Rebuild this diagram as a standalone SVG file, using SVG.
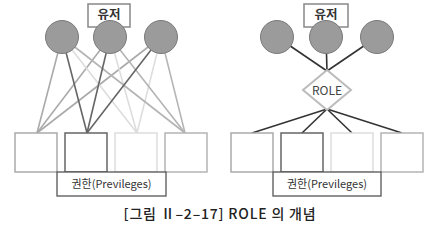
<svg xmlns="http://www.w3.org/2000/svg" width="448" height="230" viewBox="0 0 448 230">
<style>
text{font-family:"Noto Sans CJK KR","Noto Sans",sans-serif;}
.user{fill:#fff;stroke:#888;stroke-width:1.5;}
.ut{font-size:12.5px;font-weight:bold;fill:#333;text-anchor:middle;}
.c{fill:#9b9b9b;stroke:#7a7a7a;stroke-width:1;}
.b1{stroke:#aaa;}
.b2{stroke:#666;}
.b3{stroke:#ddd;}
.b4{stroke:#b4b4b4;}
.box{fill:#fff;stroke-width:1.5;}
.ln{stroke-width:1.6;fill:none;}
.rl{stroke:#333;stroke-width:1.6;fill:none;}
.priv{fill:#fff;stroke:#555;stroke-width:1.3;}
.pt{font-size:11px;fill:#333;text-anchor:middle;}
</style>
<g id="connectors">
<line class="ln b1" x1="62" y1="37" x2="37" y2="133"/>
<line class="ln b1" x1="110" y1="37" x2="37" y2="133"/>
<line class="ln b1" x1="161" y1="37" x2="37" y2="133"/>
<line class="ln b3" x1="62" y1="37" x2="137" y2="133"/>
<line class="ln b3" x1="110" y1="37" x2="137" y2="133"/>
<line class="ln b3" x1="161" y1="37" x2="137" y2="133"/>
<line class="ln b4" x1="62" y1="37" x2="185" y2="133"/>
<line class="ln b4" x1="110" y1="37" x2="185" y2="133"/>
<line class="ln b4" x1="161" y1="37" x2="185" y2="133"/>
<line class="ln b2" x1="62" y1="37" x2="87" y2="133"/>
<line class="ln b2" x1="110" y1="37" x2="87" y2="133"/>
<line class="ln b2" x1="161" y1="37" x2="87" y2="133"/>
<line class="rl" x1="277" y1="37" x2="327" y2="71"/>
<line class="rl" x1="326" y1="37" x2="327" y2="71"/>
<line class="rl" x1="377" y1="37" x2="327" y2="71"/>
<line class="rl" x1="327" y1="109" x2="252" y2="133"/>
<line class="rl" x1="327" y1="109" x2="302" y2="133"/>
<line class="rl" x1="327" y1="109" x2="352" y2="133"/>
<line class="rl" x1="327" y1="109" x2="402" y2="133"/>
</g>
<g id="user-left">
<rect class="user" x="88" y="4" width="42" height="23"/>
<text class="ut" x="109" y="19">유저</text>
</g>
<g id="user-right">
<rect class="user" x="304" y="4" width="44" height="23"/>
<text class="ut" x="326" y="19">유저</text>
</g>
<g id="users-left">
<circle class="c" cx="62" cy="37" r="16.5"/>
<circle class="c" cx="110" cy="37" r="16.5"/>
<circle class="c" cx="161" cy="37" r="16.5"/>
</g>
<g id="users-right">
<circle class="c" cx="277" cy="37" r="16.5"/>
<circle class="c" cx="326" cy="37" r="16.5"/>
<circle class="c" cx="377" cy="37" r="16.5"/>
</g>
<g id="role">
<polygon points="327,70 351,90 327,110 303,90" fill="#fff" stroke="#bbb" stroke-width="2"/>
<text x="327" y="94.5" font-size="12" fill="#444" text-anchor="middle">ROLE</text>
</g>
<g id="privs-left">
<rect class="box b1" x="15" y="133" width="42" height="39"/>
<rect class="box b2" x="65" y="133" width="42" height="39"/>
<rect class="box b3" x="115" y="133" width="42" height="39"/>
<rect class="box b4" x="165" y="133" width="42" height="39"/>
</g>
<g id="priv-label-left">
<rect class="priv" x="57" y="172" width="109" height="24"/>
<text class="pt" x="111.5" y="188">권한(Previleges)</text>
</g>
<g id="privs-right">
<rect class="box b1" x="231" y="133" width="42" height="39"/>
<rect class="box b2" x="281" y="133" width="42" height="39"/>
<rect class="box b3" x="331" y="133" width="42" height="39"/>
<rect class="box b4" x="381" y="133" width="42" height="39"/>
</g>
<g id="priv-label-right">
<rect class="priv" x="273" y="172" width="108" height="24"/>
<text class="pt" x="327" y="188">권한(Previleges)</text>
</g>
<text x="220" y="219" font-size="14" font-weight="500" letter-spacing="0.8" fill="#222" text-anchor="middle">[그림 Ⅱ–2–17] ROLE 의 개념</text>
</svg>
